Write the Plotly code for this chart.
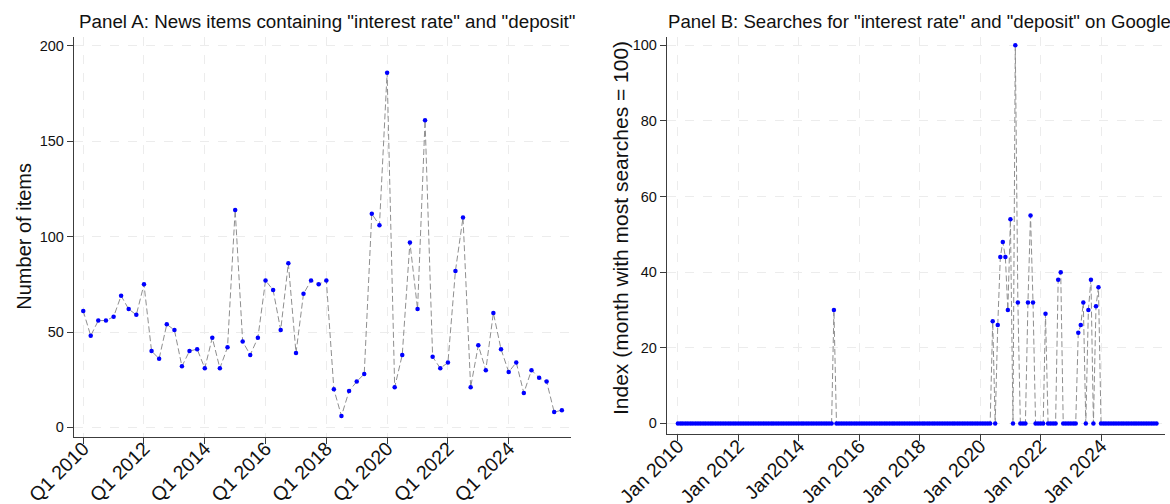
import plotly.graph_objects as go
import pandas as pd

# ---------------- Panel A data (quarterly, Q1 2010 - Q4 2025) ----------------
news_items = [
    61, 48, 56, 56, 58, 69, 62, 59,      # 2010-2011
    75, 40, 36, 54, 51, 32, 40, 41,      # 2012-2013
    31, 47, 31, 42, 114, 45, 38, 47,     # 2014-2015
    77, 72, 51, 86, 39, 70, 77, 75,      # 2016-2017
    77, 20, 6, 19, 24, 28, 112, 106,     # 2018-2019
    186, 21, 38, 97, 62, 161, 37, 31,    # 2020-2021
    34, 82, 110, 21, 43, 30, 60, 41,     # 2022-2023
    29, 34, 18, 30, 26, 24, 8, 9,        # 2024-2025
]
quarter_dates = pd.date_range("2010-01-01", periods=len(news_items), freq="QS")
a_tick_dates = ["2010-01-01", "2012-01-01", "2014-01-01", "2016-01-01",
                "2018-01-01", "2020-01-01", "2022-01-01", "2024-01-01"]
a_tick_text = ["Q1 2010", "Q1 2012", "Q1 2014", "Q1 2016",
               "Q1 2018", "Q1 2020", "Q1 2022", "Q1 2024"]
a_y_ticks = [0, 50, 100, 150, 200]

# ---------------- Panel B data (monthly, Jan 2010 - Nov 2025) ----------------
searches_2010 = [0] * 12
searches_2011 = [0] * 12
searches_2012 = [0] * 12
searches_2013 = [0] * 12
searches_2014 = [0] * 12
searches_2015 = [0, 0, 30, 0, 0, 0, 0, 0, 0, 0, 0, 0]
searches_2016 = [0] * 12
searches_2017 = [0] * 12
searches_2018 = [0] * 12
searches_2019 = [0] * 12
searches_2020 = [0, 0, 0, 0, 0, 27, 0, 26, 44, 48, 44, 30]
searches_2021 = [54, 0, 100, 32, 0, 0, 0, 32, 55, 32, 0, 0]
searches_2022 = [0, 0, 29, 0, 0, 0, 0, 38, 40, 0, 0, 0]
searches_2023 = [0, 0, 0, 24, 26, 32, 0, 30, 38, 0, 31, 36]
searches_2024 = [0] * 12
searches_2025 = [0] * 11
google_index = (searches_2010 + searches_2011 + searches_2012 + searches_2013 +
                searches_2014 + searches_2015 + searches_2016 + searches_2017 +
                searches_2018 + searches_2019 + searches_2020 + searches_2021 +
                searches_2022 + searches_2023 + searches_2024 + searches_2025)
month_dates = pd.date_range("2010-01-01", periods=len(google_index), freq="MS")
b_tick_dates = a_tick_dates
b_tick_text = ["Jan 2010", "Jan 2012", "Jan2014", "Jan 2016",
               "Jan 2018", "Jan 2020", "Jan 2022", "Jan 2024"]
b_y_ticks = [0, 20, 40, 60, 80, 100]

FONT = "Liberation Sans, Arial, sans-serif"
W, H = 1170, 504

fig = go.Figure()
line_style = dict(color="#8f8f8f", width=1, dash="6px,3px")
marker_style = dict(color="#0000ff", size=4.5)

fig.add_trace(go.Scatter(x=quarter_dates, y=news_items, mode="lines+markers",
                         line=line_style, marker=marker_style,
                         xaxis="x", yaxis="y", showlegend=False))
fig.add_trace(go.Scatter(x=month_dates, y=google_index, mode="lines+markers",
                         line=line_style, marker=marker_style,
                         xaxis="x2", yaxis="y2", showlegend=False))

common_axis = dict(showline=True, linecolor="#3c3c3c", linewidth=1.3,
                   ticks="outside", ticklen=6, tickwidth=1, tickcolor="#3c3c3c",
                   showgrid=True, gridcolor="#ececec", griddash="dash", gridwidth=1,
                   zeroline=False, automargin=False,
                   tickfont=dict(family=FONT, size=14.5, color="#111"))

def px(x):
    return x / W

def py(y):
    return 1 - y / H

XTICKFONT = dict(family=FONT, size=19.5, color="#111")

fig.update_layout(
    width=W, height=H, margin=dict(l=0, r=0, t=0, b=0, autoexpand=False),
    paper_bgcolor="white", plot_bgcolor="white",
    xaxis=dict(common_axis, domain=[px(74), px(571)], anchor="y",
               range=["2009-09-12", "2026-01-19"],
               tickmode="array", tickvals=a_tick_dates, ticktext=a_tick_text,
               tickangle=-45, tickfont=XTICKFONT, ticklabelstandoff=-14),
    yaxis=dict(common_axis, domain=[py(436.5), py(37)], anchor="x",
               range=[-4.8, 204.7], tickmode="array", tickvals=a_y_ticks),
    xaxis2=dict(common_axis, domain=[px(667), px(1165)], anchor="y2",
                range=["2009-08-22", "2026-02-12"],
                tickmode="array", tickvals=b_tick_dates, ticktext=b_tick_text,
                tickangle=-45, tickfont=XTICKFONT, ticklabelstandoff=-14),
    yaxis2=dict(common_axis, domain=[py(434), py(37)], anchor="x2",
                range=[-2.8, 102.2], tickmode="array", tickvals=b_y_ticks),
    annotations=[
        dict(text='Panel A: News items containing "interest rate" and "deposit"',
             x=px(77), y=py(22), xref="paper", yref="paper", xanchor="left",
             yanchor="middle", showarrow=False,
             font=dict(family=FONT, size=18.8, color="#111")),
        dict(text='Panel B: Searches for "interest rate" and "deposit" on Google',
             x=px(666), y=py(22), xref="paper", yref="paper", xanchor="left",
             yanchor="middle", showarrow=False,
             font=dict(family=FONT, size=18.6, color="#111")),
        dict(text="Number of items", x=px(24), y=py(236.7), xref="paper",
             yref="paper", xanchor="center", yanchor="middle", textangle=-90,
             showarrow=False, font=dict(family=FONT, size=20, color="#111")),
        dict(text="Index (month with most searches = 100)", x=px(621), y=py(228),
             xref="paper", yref="paper", xanchor="center", yanchor="middle",
             textangle=-90, showarrow=False,
             font=dict(family=FONT, size=21, color="#111")),
    ],
)

fig.write_html("out.html")
